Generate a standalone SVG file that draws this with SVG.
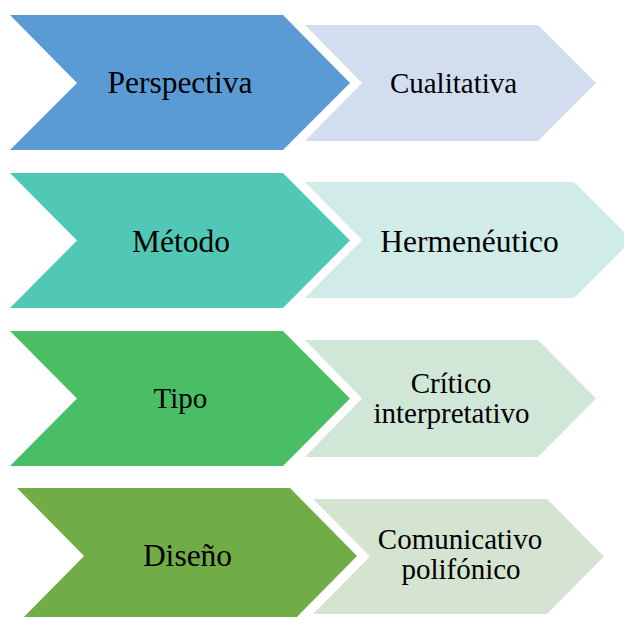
<svg xmlns="http://www.w3.org/2000/svg" width="624" height="617" viewBox="0 0 624 617">
<style>
text{font-family:"Liberation Serif","Times New Roman",serif;fill:#000;text-anchor:middle}
.d{font-size:31.5px}
.l{font-size:29px}
</style>
<rect width="624" height="617" fill="#fff"/>
<g id="connectors"></g>
<g id="light1"><polygon points="305,25 538,25 596,83 538,141 305,141 362,83" fill="#D2DEEF"/><text class="l" x="453.5" y="93">Cualitativa</text></g>
<g id="dark1"><polygon points="10,15 283,15 350,83 283,150 10,150 77,83" fill="#5B9BD5"/><text class="d" x="180" y="93">Perspectiva</text></g>
<g id="light2"><polygon points="305,182 574,182 632,240 574,298 305,298 362,240" fill="#D0EBE8"/><text class="d" x="469.5" y="252">Hermenéutico</text></g>
<g id="dark2"><polygon points="10,173 283,173 350,240.5 283,308 10,308 77,240.5" fill="#51C8B5"/><text class="d" x="181" y="252">Método</text></g>
<g id="light3"><polygon points="305,340 538,340 596,398.5 538,457 305,457 362,398.5" fill="#D0E7D7"/><text class="l" x="451" y="392.5">Crítico</text><text class="l" x="451.5" y="422.5">interpretativo</text></g>
<g id="dark3"><polygon points="10,331 283,331 350,398.5 283,466 10,466 77,398.5" fill="#49BE64"/><text class="l" x="180.5" y="408">Tipo</text></g>
<g id="light4"><polygon points="313,499 547,499 604,556.5 547,614 313,614 370,556.5" fill="#D5E3D1"/><text class="l" x="460" y="549">Comunicativo</text><text class="l" x="461" y="579">polifónico</text></g>
<g id="dark4"><polygon points="17,488 290,488 357,556 290,624 17,624 84,556" fill="#70AD47"/><text class="d" x="187.5" y="566">Diseño</text></g>
</svg>
